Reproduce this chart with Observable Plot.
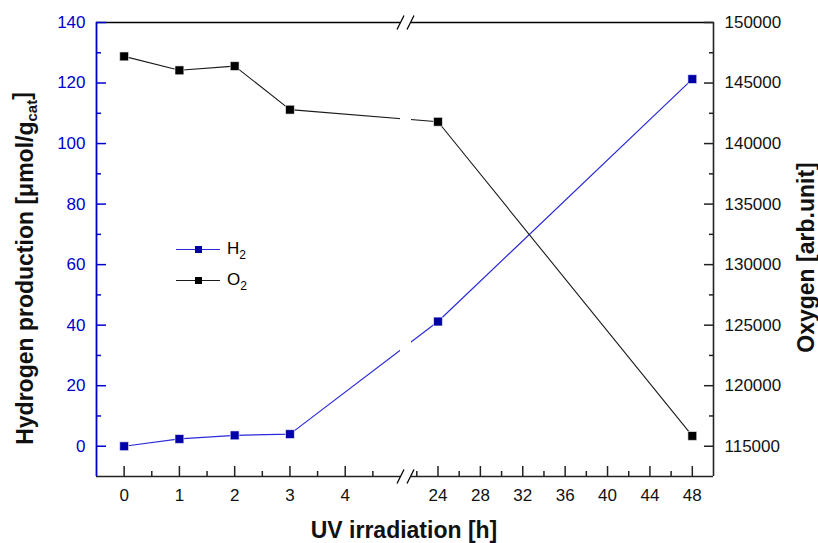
<!DOCTYPE html>
<html><head><meta charset="utf-8">
<script src="https://cdn.jsdelivr.net/npm/d3@7"></script>
<script src="https://cdn.jsdelivr.net/npm/@observablehq/plot@0.6"></script>
<style>
body{margin:0;background:#fff;}
#wrap{position:relative;width:818px;height:543px;font-family:"Liberation Sans",Arial,sans-serif;}
.leg{position:absolute;height:20px;width:120px;font-size:17px;line-height:20px;color:#000;}
.leg .ln{position:absolute;left:0;top:10px;width:44px;height:0;border-top:1px solid;}
.leg .sq{position:absolute;left:19px;top:7px;width:7px;height:7px;}
.leg .tx{position:absolute;left:51px;top:0;white-space:nowrap;}
.leg sub{font-size:12px;vertical-align:-5px;line-height:0;}
</style></head><body><div id="wrap"></div>
<script>
// data
const hours = [0, 1, 2, 3, 24, 48];
const h2 = [0, 2.4, 3.6, 4.0, 41.2, 121.3];
const o2 = [147200, 146050, 146400, 142800, 141800, 115850];
// ticks
const xMajor = [0, 1, 2, 3, 4, 24, 28, 32, 36, 40, 44, 48];
const xMinor = [0.5, 1.5, 2.5, 3.5, 4.5, 22, 26, 30, 34, 38, 42, 46];
const yMajor = [0, 20, 40, 60, 80, 100, 120, 140];
const yMinor = [10, 30, 50, 70, 90, 110, 130];
const o2Major = [115000, 120000, 125000, 130000, 135000, 140000, 145000, 150000];
const o2Minor = [117500, 122500, 127500, 132500, 137500, 142500, 147500];
// broken x axis: [-0.5..5] // [21.5..50]
const xDomain = [-0.5, 5, 21.5, 50];
const yDomain = [-10, 140];
// right axis aligned: 115000 <-> 0, 150000 <-> 140
const o2Base = 115000, o2PerUnit = 250;
const toLeft = v => (v - o2Base) / o2PerUnit;

const blue = "#0000cc";
const h2Line = "#2a2ad8";
const h2Mark = "#0000a8";

const h2Rows = hours.map((h, i) => ({h, v: h2[i]}));
const o2Rows = hours.map((h, i) => ({h, v: toLeft(o2[i])}));

const leftTitle = "Hydrogen production [μmol/gcat]";
const rightTitle = "Oxygen [arb.unit]";
const xTitle = "UV irradiation [h]";

const breakSymbol = {
  draw(ctx) {
    ctx.moveTo(-9, 7); ctx.lineTo(-2, -7);
    ctx.moveTo(1, 7); ctx.lineTo(8, -7);
  }
};

const chart = Plot.plot({
  width: 818, height: 543,
  marginLeft: 96, marginRight: 105, marginTop: 22, marginBottom: 67,
  style: {fontFamily: "'Liberation Sans', Arial, sans-serif", fontSize: "17px", background: "white"},
  x: {type: "linear", domain: xDomain, range: [96, 400, 411, 713]},
  y: {domain: yDomain},
  marks: [
    Plot.line(h2Rows, {x: "h", y: "v", stroke: h2Line, strokeWidth: 1.2}),
    Plot.line(o2Rows, {x: "h", y: "v", stroke: "#1a1a1a", strokeWidth: 1.1}),
    Plot.ruleY([yDomain[1]], {stroke: "#000", strokeWidth: 1.6}),
    Plot.ruleY([yDomain[0]], {stroke: "#222", strokeWidth: 1.6}),
    Plot.ruleX([xDomain[3]], {stroke: "#222", strokeWidth: 1.6}),
    Plot.rect([0], {x1: xDomain[1], x2: xDomain[2], y1: yDomain[0], y2: yDomain[1], fill: "white", insetTop: -4, insetBottom: -4}),
    Plot.ruleX([xDomain[0]], {stroke: blue, strokeWidth: 1.8}),
    Plot.dot(yDomain, {x: (xDomain[1] + xDomain[2]) / 2, y: d => d, symbol: breakSymbol, fill: "none", stroke: "#000", strokeWidth: 1.3}),
    // left axis
    Plot.axisY({anchor: "left", ticks: yMajor, tickSize: 10, dx: 10, tickFormat: () => "", label: null, stroke: blue, strokeWidth: 1.5}),
    Plot.axisY({anchor: "left", ticks: yMinor, tickSize: 5, dx: 5, tickFormat: () => "", label: null, stroke: blue, strokeWidth: 1.5}),
    Plot.axisY({anchor: "left", ticks: yMajor, tickSize: 0, tickPadding: 11, label: null, fill: blue, fontSize: 17}),
    // right axis
    Plot.axisY({anchor: "right", ticks: o2Major.map(toLeft), tickSize: 10, dx: -10, tickFormat: () => "", label: null, stroke: "#222", strokeWidth: 1.5}),
    Plot.axisY({anchor: "right", ticks: o2Minor.map(toLeft), tickSize: 5, dx: -5, tickFormat: () => "", label: null, stroke: "#222", strokeWidth: 1.5}),
    Plot.axisY({anchor: "right", ticks: o2Major.map(toLeft), tickSize: 0, tickPadding: 11, label: null, fill: "#111", fontSize: 17,
      tickFormat: d => String(Math.round(d * o2PerUnit + o2Base))}),
    // bottom axis
    Plot.axisX({anchor: "bottom", ticks: xMajor, tickSize: 10, dy: -10, tickFormat: () => "", label: null, stroke: "#222", strokeWidth: 1.5}),
    Plot.axisX({anchor: "bottom", ticks: xMinor, tickSize: 5, dy: -5, tickFormat: () => "", label: null, stroke: "#222", strokeWidth: 1.5}),
    Plot.axisX({anchor: "bottom", ticks: xMajor, tickSize: 0, tickPadding: 12, label: null, fill: "#111", fontSize: 17}),
    // markers
    Plot.dot(h2Rows, {x: "h", y: "v", symbol: "square", r: 5, fill: h2Mark, stroke: "white", strokeWidth: 0.6}),
    Plot.dot(o2Rows, {x: "h", y: "v", symbol: "square", r: 5, fill: "#000", stroke: "white", strokeWidth: 0.6}),
    // titles
    Plot.text([xTitle], {text: d => d, frameAnchor: "bottom", textAnchor: "middle", dx: -1, dy: 54, lineAnchor: "middle", fontWeight: "bold", fontSize: 23, fill: "#111"}),
    Plot.text([leftTitle], {text: d => d, frameAnchor: "left", textAnchor: "middle", rotate: -90, dx: -71, dy: 19, lineAnchor: "middle", fontWeight: "bold", fontSize: 23, fill: "#111"}),
    Plot.text([rightTitle], {text: d => d, frameAnchor: "right", textAnchor: "middle", rotate: -90, dx: 93, dy: 8, lineAnchor: "middle", fontWeight: "bold", fontSize: 23, fill: "#111"})
  ]
});

// subscript "cat" in left title
d3.select(chart).selectAll("text").each(function () {
  if (this.textContent === leftTitle) {
    const t = d3.select(this);
    t.text(null);
    t.append("tspan").text("Hydrogen production [μmol/g");
    t.append("tspan").attr("dy", "0.3em").attr("font-size", 15).text("cat");
    t.append("tspan").attr("dy", "-0.3em").text("]");
  }
});

const wrap = document.getElementById("wrap");
wrap.appendChild(chart);

// legend
const legendItems = [
  {label: "H", sub: "2", line: h2Line, mark: h2Mark, cy: 249},
  {label: "O", sub: "2", line: "#1a1a1a", mark: "#000", cy: 280}
];
for (const it of legendItems) {
  const div = document.createElement("div");
  div.className = "leg";
  div.style.left = "176px";
  div.style.top = (it.cy - 10) + "px";
  div.innerHTML = `<div class="ln" style="border-color:${it.line}"></div><div class="sq" style="background:${it.mark}"></div><div class="tx">${it.label}<sub>${it.sub}</sub></div>`;
  wrap.appendChild(div);
}
</script></body></html>
